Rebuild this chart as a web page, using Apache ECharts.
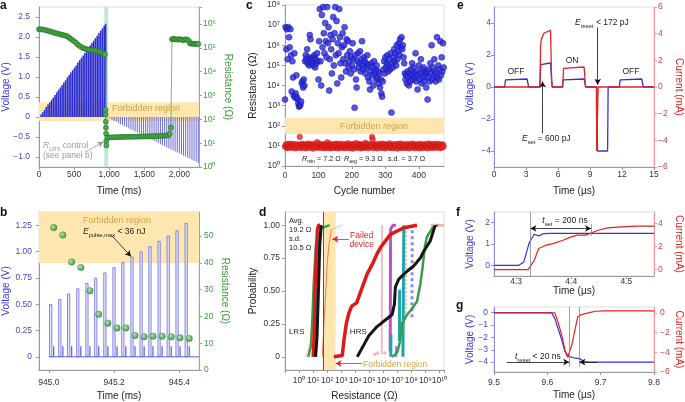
<!DOCTYPE html>
<html><head><meta charset="utf-8">
<script src="https://cdn.jsdelivr.net/npm/echarts@6/dist/echarts.min.js"></script>
<style>html,body{margin:0;padding:0;background:#fff}#c{width:685px;height:402px}</style>
</head><body><div id="c"></div><script>
// ---------- Panel a ----------
const aRampT = [25,50,75,100,125,150,175,200,225,250,275,300,325,350,375,400,425,450,475,500,525,550,575,600,625,650,675,700,725,750,775,800,825,850,875,900,925,945];
const aRampV = [0.06,0.12,0.18,0.25,0.31,0.37,0.43,0.49,0.55,0.62,0.68,0.74,0.80,0.86,0.92,0.99,1.05,1.11,1.17,1.23,1.29,1.36,1.42,1.48,1.54,1.60,1.66,1.73,1.79,1.85,1.91,1.97,2.03,2.10,2.16,2.22,2.28,2.33];
const aRevT = [980,1010,1040,1070,1100,1130,1160,1190,1220,1250,1280,1310,1340,1370,1400,1430,1460,1490,1520,1550,1580,1610,1640,1670,1700,1730,1760,1790,1820,1850,1880,1910,1940,1970,2000,2030,2060,2090,2120,2150,2180,2210,2240,2270];
const aRevV = [-0.02,-0.04,-0.07,-0.10,-0.12,-0.15,-0.18,-0.20,-0.23,-0.25,-0.28,-0.31,-0.33,-0.36,-0.39,-0.41,-0.44,-0.47,-0.49,-0.52,-0.54,-0.57,-0.60,-0.62,-0.65,-0.68,-0.70,-0.73,-0.76,-0.78,-0.81,-0.83,-0.86,-0.89,-0.91,-0.94,-0.97,-0.99,-1.02,-1.04,-1.07,-1.10,-1.12,-1.15];
const aResT = [0,25,50,75,100,125,150,175,200,225,250,275,300,325,350,375,400,425,450,475,500,525,550,575,600,625,650,675,700,725,750,775,800,825,850,875,900,925,940,
  948,950,952,954,956,958,960,
  975,1005,1035,1065,1095,1125,1155,1185,1215,1245,1275,1305,1335,1365,1395,1425,1455,1485,1515,1545,1575,1605,1635,1665,1695,1725,1755,1785,1815,1845,1860,1880,
  1895,1915,1935,1955,1975,1995,2015,2035,2055,2075,2095,2115,2135,2150,2170,2190,2210,2230,2250,2270];
const aResR = [6.0e5,6.0e5,5.9e5,5.75e5,5.5e5,5.25e5,5.0e5,4.7e5,4.5e5,4.25e5,4.1e5,3.9e5,3.7e5,3.55e5,3.4e5,3.25e5,3.1e5,2.75e5,2.4e5,2.15e5,1.9e5,1.65e5,1.4e5,1.23e5,1.1e5,1.0e5,9.3e4,8.9e4,8.5e4,8.3e4,8.1e4,7.9e4,7.8e4,7.4e4,7.1e4,6.8e4,6.3e4,5.75e4,5.25e4,
  250,160,80,45,25,12,8,
  17,17.5,17.5,17.8,17.8,18,18,18.2,18.2,18.4,18.4,18.5,18.6,18.6,18.8,18.8,19,19,19.2,19.2,19.4,19.5,19.6,19.8,20,20,20.2,20.5,20.8,21,25,45,
  2.3e5,2.4e5,2.3e5,2.3e5,2.2e5,2.3e5,2.3e5,2.2e5,2.1e5,2.2e5,2.3e5,2.2e5,2.0e5,1.55e5,1.5e5,1.5e5,1.5e5,1.45e5,1.5e5,1.45e5];
// ---------- Panel b ----------
const bPulseT = [945.003,945.031,945.058,945.086,945.114,945.141,945.169,945.197,945.224,945.252,945.280,945.307,945.335,945.363,945.390,945.418];
const bPulseV = [0.50,0.55,0.60,0.65,0.70,0.75,0.80,0.85,0.90,0.95,1.00,1.05,1.10,1.15,1.20,1.27];
const bReadT = [945.015,945.043,945.070,945.098,945.126,945.153,945.181,945.209,945.236,945.264,945.292,945.319,945.347,945.375,945.402,945.430];
const bReadV = [0.1,0.1,0.1,0.1,0.1,0.1,0.1,0.1,0.1,0.1,0.1,0.1,0.1,0.1,0.1,0.1];
const bBaseT = [945.0,945.46];
const bBaseV = [0,0];
const bResR = [53.2,50.4,40.3,38.3,29.6,20.8,17.5,15.7,15.7,12.9,12.4,12.6,12.6,12.4,12.0,11.8];
// ---------- Panel c ----------
const cCycle = [0,2,4,6,8,10,12,14,16,18,20,22,24,26,28,30,32,34,36,38,
 40,42,44,46,48,50,52,54,56,58,60,62,64,66,68,70,72,74,76,78,
 80,82,84,86,88,90,92,94,96,98,100,102,104,106,108,110,112,114,116,118,
 120,122,124,126,128,130,132,134,136,138,140,142,144,146,148,150,152,154,156,158,
 160,162,164,166,168,170,172,174,176,178,180,182,184,186,188,190,192,194,196,198,
 200,202,204,206,208,210,212,214,216,218,220,222,224,226,228,230,232,234,236,238,
 240,242,244,246,248,250,252,254,256,258,260,262,264,266,268,270,272,274,276,278,
 280,282,284,286,288,290,292,294,296,298,300,302,304,306,308,310,312,314,316,318,
 320,322,324,326,328,330,332,334,336,338,340,342,344,346,348,350,352,354,356,358,
 360,362,364,366,368,370,372,374,376,378,380,382,384,386,388,390,392,394,396,398,
 400,402,404,406,408,410,412,414,416,418,420,422,424,426,428,430,432,434,436,438,
 440,442,444,446,448,450,452,454,456,458,460,462,464,466,468,470,472,474];
const cLRS = [9.2,11.5,8.1,12.3,7.6,10.4,9.8,13.0,8.5,10.9, 7.9,11.8,9.4,12.6,8.3,10.1,7.4,11.2,9.0,12.0,
 8.7,10.6,28.0,7.7,11.9,9.5,12.8,8.0,10.3,9.1, 11.4,7.5,12.5,8.9,10.7,9.3,13.2,7.8,11.0,8.6,
 10.2,12.1,7.3,11.6,9.7,10.8,8.2,12.4,15.5,9.0, 7.9,11.3,8.8,12.7,9.6,10.0,7.6,11.7,8.4,12.2,
 9.9,7.7,10.5,15.0,8.1,11.1,9.2,12.9,7.5,10.6, 8.7,11.9,9.4,7.8,12.0,10.3,8.3,13.1,9.8,7.4,
 11.5,8.6,10.1,12.6,7.9,9.5,11.8,8.2,10.7,12.3, 7.6,9.1,11.4,8.9,13.4,7.7,10.4,9.6,12.1,8.0,
 10.9,7.3,12.5,9.3,11.0,8.5,14.0,7.8,10.2,11.7, 8.8,12.8,9.7,7.5,11.3,10.0,8.1,12.2,9.4,7.9,
 14.5,8.4,11.6,9.0,10.6,7.6,12.4,8.9,11.1,9.6, 28.0,21.0,7.7,10.8,12.0,8.3,9.9,11.5,7.4,10.3,
 12.7,8.6,9.2,11.2,7.8,13.0,10.1,8.0,11.9,9.5, 7.5,12.1,10.4,8.7,11.0,9.1,13.5,7.9,10.7,8.2,
 11.6,9.8,7.6,12.3,8.5,10.9,9.3,11.4,7.3,12.6, 8.8,10.2,9.0,13.2,7.7,11.1,8.4,10.5,12.0,9.7,
 7.9,11.8,8.1,10.0,12.5,9.4,7.5,11.3,8.9,10.6, 13.0,8.3,9.6,11.7,7.6,10.4,12.2,8.7,9.9,11.0,
 7.4,12.9,9.2,10.8,8.0,11.5,9.5,7.8,12.4,10.1, 8.6,11.2,9.7,7.5,13.3,10.3,8.2,11.9,9.0,12.1,
 7.7,10.7,8.8,12.6,9.3,11.4,7.9,10.0,12.8,8.5, 11.1,9.6,7.6,12.0,10.5,8.3,11.7,9.2];
const cHRS = [2.0e3,7.9e6,6.3e5,6.3e6,2.0e5,7.9e6,2.5e6,7.9e5,6.3e6,3.2e5,
 5.0e3,1.6e5,2.5e4,3.2e3,4.0e5,2.5e3,4.0e3,3.2e4,2.5e3,2.0e3,
 1.26e3,890,1.0e3,1.12e3,1.6e3,1.26e4,1.6e4,7.9e3,2.0e4,1.0e4,
 1.6e5,3.2e5,2.0e5,6.3e5,1.26e5,2.5e5,1.0e5,3.2e6,2.0e6,2.0e5,
 1.26e5,2.5e5,1.0e5,1.6e5,3.2e5,7.9e4,2.0e5,1.26e5,4.0e5,1.6e5,
 2.0e4,1.6e6,6.3e7,1.6e5,1.0e4,3.2e7,7.9e5,7.9e7,4.0e6,4.0e5,
 1.26e7,1.6e6,2.5e5,7.9e7,1.26e6,7.9e6,5.6e3,2.0e5,3.2e6,6.3e5,
 4.0e4,2.0e6,2.5e7,1.0e5,4.0e6,7.9e7,3.2e5,1.6e7,1.26e4,1.26e6,
 4.0e5,6.3e7,2.5e6,1.26e5,2.5e4,7.9e5,4.0e6,2.0e5,1.0e6,7.9e6,
 1.26e5,5.0e4,2.0e6,3.2e5,1.6e6,7.9e4,1.6e5,5.0e5,4.0e4,2.5e5,
 1.0e5,1.26e6,2.0e5,6.3e4,790,3.2e5,2.0e4,7.9e3,1.6e5,4.0e5,
 7.9e4,1.26e5,5.0e5,5.0e4,2.0e5,1.6e6,1.0e5,6.3e4,2.5e5,1.6e5,
 4.0e4,1.26e5,7.9e4,3.2e5,2.5e4,1.0e5,1.6e4,6.3e3,5.0e4,1.26e5,
 3.2e4,7.9e4,1.0e4,1.6e5,4.0e4,6.3e4,2.0e4,1.0e5,2.5e4,5.0e4,
 1.26e4,4.0e4,7.9e3,2.0e4,4.0e3,2.8e3,1.6e4,6.3e4,1.6e5,4.0e4,
 2.5e5,7.9e4,1.26e5,3.2e5,5.0e4,1.0e5,2.0e5,6.3e4,4.0e5,450,
 1.26e5,7.9e4,2.5e5,6.3e5,1.6e5,4.0e5,1.0e5,1.0e6,2.0e5,5.0e5,
 1.26e6,3.2e5,2.0e6,7.9e5,2.5e6,6.3e5,1.0e6,2.5e5,1.26e5,4.0e4,
 2.0e4,3.2e4,1.26e4,5.0e4,2.5e4,1.0e4,4.0e4,1.6e4,6.3e4,3.2e4,
 1.26e5,2.0e4,7.9e4,2.5e4,4.0e4,4.0e5,1.6e4,5.0e4,6.3e3,3.2e4,
 1.0e5,2.0e4,4.0e4,2.0e5,1.26e4,6.3e4,2.5e4,7.9e4,1.6e4,4.0e4,
 3.2e4,7.9e3,5.0e4,2.0e3,2.5e4,6.3e4,1.6e4,1.26e5,4.0e4,1.0e6,
 2.0e4,7.9e4,3.2e4,2.0e5,5.0e4,1.6e4,4.0e4,2.5e6,2.5e4,1.0e5,
 2.0e4,6.3e4,1.6e6,3.2e4,2.5e5,5.0e4,1.26e6,7.9e4];
// ---------- Panel d (resistance in ohm, cumulative probability) ----------
const dLrsOrange = [[3,0],[6,0.1],[10,0.35],[13,0.6],[18,0.85],[40,1]];
const dLrsGreen  = [[4.5,0],[7,0.08],[9,0.3],[11,0.55],[16,0.85],[28,0.97],[150,1]];
const dLrsRed    = [[10,0],[12,0.2],[14,0.5],[17,0.8],[20,0.97],[24,1],[32,1]];
const dLrsTeal   = [[13,0],[16,0.3],[20,0.6],[24,0.9],[28,1]];
const dLrsPurple = [[12.5,0],[15.5,0.3],[18,0.6],[22,0.9],[26,1]];
const dLrsBlue   = [[14,0],[18,0.4],[22,0.75],[26,1]];
const dLrsBlack  = [[15,0],[19,0.15],[24,0.5],[30,0.85],[38,1]];
const dFailed    = [[45,0],[63,0.3],[100,0.7],[135,0.85],[200,0.97]];
const dFailedTail= [[200,0.97],[400,0.98],[1175,1]];
const dHrsRed    = [[300,0],[1200,0.01],[1550,0.12],[2300,0.25],[3500,0.33],[5600,0.385],[12600,0.41],[32000,0.53],[71000,0.63],[160000,0.70],[350000,0.78],[630000,0.83],[3.2e6,0.93],[2.9e7,0.98],[2.5e8,1]];
const dHrsRedTail= [[3.2e9,1],[6e9,1],[1e10,1],[1.6e10,1]];
const dHrsBlack  = [[1.4e4,0],[3.2e4,0.07],[9.3e4,0.16],[3.6e5,0.23],[1.4e6,0.28],[4.2e6,0.32],[6.2e6,0.40],[7.2e6,0.53],[1.26e7,0.59],[4.9e7,0.65],[1.45e8,0.69],[4.3e8,0.75],[7.4e8,0.80],[2.2e9,0.88],[5.0e9,1]];
const dHrsGreen  = [[4.2e6,0],[9.5e6,0.03],[1.6e7,0.12],[2.1e7,0.25],[4.9e7,0.32],[8.5e7,0.35],[2.5e8,0.42],[4.3e8,0.55],[6.3e8,0.68],[8.9e8,0.83],[1.26e9,0.91],[3.2e9,0.98],[7.9e9,1]];
const dHrsPurple = [[3.1e6,0.04],[3.2e6,0.5],[3.3e6,0.97],[5e6,1],[8e6,1]];
const dHrsTeal   = [[2.5e7,0],[2.7e7,0.5],[2.9e7,1]];
const dHrsTeal2  = [[1.4e7,0.12],[1.45e7,0.51]];
const dHrsTeal3  = [[3.4e6,0],[3.5e6,0.17]];
const dHrsLav    = [[1.1e8,0.3],[1.15e8,1]];
const dHrsLav2   = [[8e6,0],[8.5e6,0.08]];
const dHrsSalmon = [[4e7,0.3],[4.1e7,1]];
const dHrsPink   = [[7.9e5,0.02],[8.1e5,1.0]];
const dPinkDots  = [[2.5e5,0.02],[4e5,0.03],[3.2e4,0.07],[1.3e6,0.03]];
// ---------- Panels e, f, g ([time µs, value]) ----------
const eVolt = [[0,0],[1.0,0],[1.08,0.45],[1.15,0.5],[3.1,0.5],[3.18,0.45],[3.25,0],[4.3,0],[4.38,1.4],[4.45,1.5],[5.3,1.5],[5.38,1.4],[5.45,0],[6.4,0],[6.48,0.45],[6.55,0.5],[8.45,0.5],[8.52,0.45],[8.6,0],[9.65,0],[9.7,-4],[10.65,-4],[10.7,0],[11.75,0],[11.83,0.45],[11.9,0.5],[13.85,0.5],[13.92,0.45],[14.0,0],[15,0]];
const eCurr = [[0,0],[4.31,0],[4.36,3.0],[4.42,3.5],[4.55,3.8],[4.7,4.05],[4.85,4.2],[5.3,4.25],[5.4,0.5],[5.47,0],[6.45,0],[6.52,1.4],[6.58,1.5],[8.45,1.5],[8.52,1.4],[8.58,0],[9.6,0],[9.63,-4.8],[9.72,-4.8],[9.76,0],[15,0]];
const fVolt = [[4.26,0],[4.305,0],[4.314,0.16],[4.324,1.07],[4.333,1.46],[4.341,1.38],[4.35,1.49],[4.362,1.5],[4.55,1.5]];
const fCurr = [[4.26,0],[4.322,0],[4.333,0.81],[4.341,1.83],[4.353,2.1],[4.367,2.26],[4.385,2.55],[4.4,2.84],[4.411,2.99],[4.426,2.99],[4.437,3.2],[4.449,3.42],[4.466,3.62],[4.49,3.71],[4.519,3.77],[4.55,3.77]];
const gVolt = [[9.5,0],[9.608,0],[9.614,-0.46],[9.62,-1.26],[9.627,-2.2],[9.633,-3.15],[9.64,-3.55],[9.65,-3.65],[9.66,-3.72],[9.67,-3.95],[9.68,-4.0],[9.8,-4.0]];
const gCurr = [[9.5,0],[9.614,0],[9.62,-0.9],[9.627,-2.25],[9.633,-3.76],[9.638,-4.5],[9.641,-4.7],[9.646,-3.26],[9.651,-1.9],[9.657,-0.4],[9.661,-0.23],[9.671,-0.07],[9.69,0.17],[9.708,0.2],[9.8,0.2]];

// ---------- helpers ----------
const FF = '"Liberation Sans", Arial, Helvetica, sans-serif';
const BLUE='#3b3bd0', BLUE_AX='#8c8cea', GREEN='#3a9a3a', GREEN_AX='#74c274', RED='#e52222', RED_AX='#f09494', GOLD='#cfa445', BAND='#fde6b0';
const zip=(a,b)=>a.map((x,i)=>[x,b[i]]);
const MINUS='\u2212';
function sup(n){const m='⁰¹²³⁴⁵⁶⁷⁸⁹';return String(n).split('').map(c=>m[+c]).join('');}
function logLab(v){const e=Math.log10(v),r=Math.round(e);if(Math.abs(e-r)>1e-6||r<0)return '';return '10'+sup(r);}
function num(d){return v=>{if(Math.abs(v)<1e-9)return '0';const s=Math.abs(v).toFixed(d);return (v<0?MINUS:'')+s;};}
function mkAxis(o){
  const a={type:o.type||'value',gridIndex:o.g,min:o.min,max:o.max,position:o.pos,
    splitLine:{show:false},
    axisLine:{show:true,onZero:false,lineStyle:{color:o.lc||'#9a9a9a',width:1}},
    axisTick:{show:true,length:3,lineStyle:{color:o.lc||'#9a9a9a'}},
    axisLabel:{show:true,fontFamily:FF,fontSize:8.5,color:o.tc||'#333',margin:o.m==null?4:o.m,showMinLabel:true,showMaxLabel:true},
    name:o.name||'',nameLocation:'middle',nameGap:o.gap||20,nameMoveOverlap:false,
    nameTextStyle:{fontFamily:FF,fontSize:10,color:o.nc||'#222'}};
  if(o.rot!=null)a.nameRotate=o.rot;
  if(o.cv){a.axisTick.customValues=o.cv;a.axisLabel.customValues=o.cv;}
  if(o.f)a.axisLabel.formatter=o.f;
  if(o.type==='log'){a.logBase=10;a.interval=1;}
  if(o.interval)a.interval=o.interval;
  return a;
}
const thousands=v=>v>=1000?(Math.floor(v/1000)+','+String(v%1000).padStart(3,'0')):String(v);

const xAxis=[
  mkAxis({g:0,min:0,max:2280,cv:[0,500,1000,1500,2000],f:thousands,m:3,name:'Time (ms)',gap:19}),
  mkAxis({g:1,min:944.97,max:945.46,cv:[945.0,945.2,945.4],f:v=>v.toFixed(1),m:8,name:'Time (ms)',gap:21}),
  mkAxis({g:2,min:0,max:475,cv:[0,100,200,300,400],m:5,name:'Cycle number',gap:20}),
  mkAxis({g:3,type:'log',min:0.1,max:2.1e10,f:logLab,m:6,name:'Resistance (\u03a9)',gap:21}),
  mkAxis({g:4,min:0,max:15,interval:3,m:3,name:'Time (\u00b5s)',gap:19}),
  mkAxis({g:5,min:4.26,max:4.55,cv:[4.3,4.4,4.5],f:v=>v.toFixed(1),m:1,name:'',gap:12}),
  mkAxis({g:6,min:9.5,max:9.8,cv:[9.5,9.6,9.7,9.8],f:v=>v.toFixed(1),m:6,name:'Time (\u00b5s)',gap:18})
];
const yAxis=[
  mkAxis({g:0,pos:'left',min:-1.25,max:2.75,cv:[-1,-0.5,0,0.5,1,1.5,2,2.5],f:num(1),m:9,lc:BLUE_AX,tc:'#4646cc',name:'Voltage (V)',nc:BLUE,gap:28}),
  mkAxis({g:0,pos:'right',type:'log',min:1,max:5.2e6,f:logLab,m:4,lc:GREEN_AX,tc:GREEN,name:'Resistance (\u03a9)',nc:GREEN,gap:24,rot:-90}),
  mkAxis({g:1,pos:'left',min:-0.125,max:1.375,cv:[0,0.25,0.5,0.75,1,1.25],f:num(2),m:7,lc:BLUE_AX,tc:'#4646cc',name:'Voltage (V)',nc:BLUE,gap:28}),
  mkAxis({g:1,pos:'right',min:0,max:59,cv:[0,10,20,30,40,50],f:num(0),m:5,lc:GREEN_AX,tc:GREEN,name:'Resistance (\u03a9)',nc:GREEN,gap:21,rot:-90}),
  mkAxis({g:2,type:'log',min:1,max:1e8,f:logLab,m:5,name:'Resistance (\u03a9)',gap:27}),
  mkAxis({g:3,min:-0.1,max:1.1,cv:[0,0.25,0.5,0.75,1],f:num(2),m:5,name:'Probability',gap:27}),
  mkAxis({g:4,pos:'left',min:-5,max:5,cv:[-4,-2,0,2,4],f:num(0),m:3,lc:BLUE_AX,tc:'#4646cc',name:'Voltage (V)',nc:BLUE,gap:19}),
  mkAxis({g:4,pos:'right',min:-6,max:6,cv:[-6,-4,-2,0,2,4,6],f:num(0),m:4,lc:RED_AX,tc:'#e03a3a',name:'Current (mA)',nc:RED,gap:20,rot:-90}),
  mkAxis({g:5,pos:'left',min:-0.5,max:2.5,cv:[0,1,2],f:num(0),m:4,lc:BLUE_AX,tc:'#4646cc',name:'Voltage (V)',nc:BLUE,gap:19}),
  mkAxis({g:5,pos:'right',min:-0.55,max:5,cv:[0,2,4],f:num(0),m:4,lc:RED_AX,tc:'#e03a3a',name:'Current (mA)',nc:RED,gap:20,rot:-90}),
  mkAxis({g:6,pos:'left',min:-4.8,max:0.46,cv:[-4,-3,-2,-1,0],f:num(0),m:6,lc:BLUE_AX,tc:'#4646cc',name:'Voltage (V)',nc:BLUE,gap:19}),
  mkAxis({g:6,pos:'right',min:-6,max:0.6,cv:[-6,-4,-2,0],f:num(0),m:6,lc:RED_AX,tc:'#e03a3a',name:'Current (mA)',nc:RED,gap:20,rot:-90})
];
const gb={show:true,borderColor:'#d4d4d4',borderWidth:0.8,backgroundColor:'transparent'};
const grid=[
  Object.assign({left:39,top:7,width:160,height:160},gb),
  Object.assign({left:39,top:212,width:160,height:159},gb),
  Object.assign({left:285,top:5,width:159,height:161},gb),
  Object.assign({left:285,top:212,width:159,height:159},gb),
  Object.assign({left:494,top:7,width:160,height:160},gb),
  Object.assign({left:494,top:212,width:160,height:64},gb),
  Object.assign({left:494,top:307,width:160,height:65},gb)
];
function arrow(coords,color,sym,w){return {silent:true,symbol:sym||['none','arrow'],symbolSize:[5,6],label:{show:false},lineStyle:{color:color,width:w||0.8,type:'solid'},data:coords.map(c=>[{coord:c[0]},{coord:c[1]}])};}
function dl(name,data,color,w,extra){return Object.assign({type:'line',name:name,xAxisIndex:3,yAxisIndex:5,data:data,symbol:'none',lineStyle:{color:color,width:w},itemStyle:{color:color}},extra||{});}
const greenBall={type:'radial',x:0.35,y:0.35,r:0.75,colorStops:[{offset:0,color:'#9be39b'},{offset:1,color:'#17751b'}]};

const series=[
  // a
  {type:'bar',xAxisIndex:0,yAxisIndex:0,data:zip(aRampT,aRampV),barWidth:1.6,barGap:'-100%',itemStyle:{color:'#2f2fcf'},z:2,
   markArea:{silent:true,itemStyle:{color:BAND},data:[[{yAxis:-0.1},{yAxis:0.37}],[{xAxis:930,itemStyle:{color:'#bfe9d2'}},{xAxis:985}]]},
   markLine:arrow([[[657,-0.875],[914,-0.625]]],'#9a9a9a')},
  {type:'bar',xAxisIndex:0,yAxisIndex:0,data:zip(aRevT,aRevV),barWidth:0.8,barGap:'-100%',itemStyle:{color:'#6a6ad6'},z:2},
  {type:'line',xAxisIndex:0,yAxisIndex:1,data:zip(aResT,aResR),symbol:'circle',symbolSize:5,itemStyle:{color:'#4aae4a',borderColor:'#1c6b1c',borderWidth:0.6},lineStyle:{color:'#4aae4a',width:0.8},z:4},
  // b
  {type:'bar',xAxisIndex:1,yAxisIndex:2,data:zip(bPulseT,bPulseV),barWidth:3,barGap:'-100%',itemStyle:{color:'#e6e6fb',borderColor:'#5a5ad8',borderWidth:0.7},z:2,
   markArea:{silent:true,itemStyle:{color:BAND},data:[[{yAxis:0.89},{yAxis:1.375}]]},
   markLine:arrow([[[945.191,1.148],[945.249,0.953]]],'#111')},
  {type:'bar',xAxisIndex:1,yAxisIndex:2,data:zip(bReadT,bReadV),barWidth:1.2,barGap:'-100%',itemStyle:{color:'#5a5ad8'},z:2},
  {type:'line',xAxisIndex:1,yAxisIndex:2,data:zip(bBaseT,bBaseV),symbol:'none',lineStyle:{color:'#5a5ad8',width:1},z:2},
  {type:'scatter',xAxisIndex:1,yAxisIndex:3,data:zip(bReadT,bResR),symbolSize:6.5,itemStyle:{color:greenBall,borderColor:'#16661a',borderWidth:0.4},z:4},
  // c
  {type:'scatter',xAxisIndex:2,yAxisIndex:4,data:zip(cCycle,cHRS),symbolSize:6,itemStyle:{color:'#2a2ae0',borderColor:'#12129a',borderWidth:0.6},z:3},
  {type:'scatter',xAxisIndex:2,yAxisIndex:4,data:zip(cCycle,cLRS),symbolSize:5.5,itemStyle:{color:'#f02424',borderColor:'#b01010',borderWidth:0.5},z:3,
   markArea:{silent:true,itemStyle:{color:BAND},data:[[{yAxis:39},{yAxis:250}]]}},
  // d
  dl('lrsOrange',dLrsOrange,'#f2a27e',1.2,{lineStyle:{color:'#f2a27e',width:1.2,type:'dotted'},
     markArea:{silent:true,itemStyle:{color:BAND},data:[[{xAxis:58},{xAxis:400}]]},
     markLine:{silent:true,symbol:['none','none'],label:{show:false},lineStyle:{color:'#555',width:1,type:'solid'},data:[{xAxis:50}]}}),
  dl('lrsGreen',dLrsGreen,'#3c9a4a',2.5),
  dl('lrsPurple',dLrsPurple,'#b452c4',2.5),
  dl('lrsBlue',dLrsBlue,'#7f86e6',2),
  dl('lrsTeal',dLrsTeal,'#1fa3ad',2.5),
  dl('lrsRed',dLrsRed,'#e01818',3.2),
  dl('lrsBlack',dLrsBlack,'#151515',3),
  dl('failed',dFailed,'#f07a50',1,{markLine:arrow([[[3548,0.894],[234,0.894]],[[31600,-0.05],[400,-0.05]]],RED)}),
  dl('failedTail',dFailedTail,'#f07a60',1,{lineStyle:{color:'#f07a60',width:1,type:'dotted'}}),
  dl('hrsPink',dHrsPink,'#f08080',1),
  dl('hrsSalmon',dHrsSalmon,'#f4b09a',2,{lineStyle:{color:'#f4b09a',width:2,type:'dotted'}}),
  dl('hrsPurple',dHrsPurple,'#c050c8',3),
  dl('hrsTeal3',dHrsTeal3,'#1fa3ad',3),
  dl('hrsTeal2',dHrsTeal2,'#1fa3ad',3),
  dl('hrsTeal',dHrsTeal,'#1fa3ad',3),
  dl('hrsLav',dHrsLav,'#8a8ae8',3,{lineStyle:{color:'#8a8ae8',width:3,type:'dotted'}}),
  dl('hrsLav2',dHrsLav2,'#8a8ae8',2.5),
  dl('hrsGreen',dHrsGreen,'#3c9a4a',2.5),
  dl('hrsRed',dHrsRed,'#e01818',3.5),
  dl('hrsBlack',dHrsBlack,'#151515',3),
  {type:'scatter',xAxisIndex:3,yAxisIndex:5,data:dHrsRedTail,symbolSize:3.5,itemStyle:{color:'#f4a0a0'}},
  {type:'scatter',xAxisIndex:3,yAxisIndex:5,data:dPinkDots,symbolSize:3.5,itemStyle:{color:'#f4a0b8'}},
  // e
  {type:'line',xAxisIndex:4,yAxisIndex:6,data:eVolt,symbol:'none',lineStyle:{color:'#3434d6',width:1.3},z:3,
   markLine:arrow([[[9.72,3.72],[9.72,0.14]],[[4.56,-2.9],[4.56,0.35]]],'#111')},
  {type:'line',xAxisIndex:4,yAxisIndex:7,data:eCurr,symbol:'none',lineStyle:{color:'#e52222',width:1.3},z:3},
  // f
  {type:'line',xAxisIndex:5,yAxisIndex:8,data:fVolt,symbol:'none',lineStyle:{color:'#3434d6',width:1.2},z:3,
   markLine:{silent:true,symbol:['none','none'],label:{show:false},lineStyle:{color:'#888',width:0.8,type:'solid'},
     data:[[{coord:[4.326,2.5]},{coord:[4.326,-0.5]}],[{coord:[4.436,1.94]},{coord:[4.436,1.39]}]]}},
  {type:'line',xAxisIndex:5,yAxisIndex:8,data:[],symbol:'none',markLine:arrow([[[4.326,1.73],[4.436,1.73]]],'#111',['arrow','arrow'])},
  {type:'line',xAxisIndex:5,yAxisIndex:9,data:fCurr,symbol:'none',lineStyle:{color:'#e52222',width:1.2},z:3},
  // g
  {type:'line',xAxisIndex:6,yAxisIndex:10,data:gVolt,symbol:'none',lineStyle:{color:'#3434d6',width:1.2},z:3,
   markLine:{silent:true,symbol:['none','none'],label:{show:false},lineStyle:{color:'#888',width:0.8,type:'solid'},
     data:[[{coord:[9.641,0.46]},{coord:[9.641,-4.35]}],[{coord:[9.66,0.46]},{coord:[9.66,-4.35]}]]}},
  {type:'line',xAxisIndex:6,yAxisIndex:10,data:[],symbol:'none',markLine:arrow([[[9.524,-4],[9.641,-4]],[[9.693,-4],[9.66,-4]]],'#111')},
  {type:'line',xAxisIndex:6,yAxisIndex:11,data:gCurr,symbol:'none',lineStyle:{color:'#e52222',width:1.2},z:3}
];

function mkRich(c,fs){const sub=Math.round(fs*0.68*10)/10;return {i:{fontStyle:'italic',fontSize:fs,fontFamily:FF,lineHeight:fs+3.5,fill:c},s:{fontSize:sub,fontFamily:FF,verticalAlign:'bottom',fill:c},n:{fontSize:fs,fontFamily:FF,lineHeight:fs+3.5,fill:c}};}
function T(x,y,text,o){o=o||{};const st={text:text,fill:o.c||'#222',fontFamily:FF,fontSize:o.fs||8.5,fontWeight:o.fw||'normal',align:o.al||'left',verticalAlign:o.va||'middle'};if(o.lh)st.lineHeight=o.lh;if(o.rich)st.rich=o.rich;return {type:'text',x:x,y:y,silent:true,z:100,style:st};}
function RT(x,y,text,c,al,fs){fs=fs||8.5;return T(x,y,text,{rich:mkRich(c||'#222',fs),c:c,al:al,fs:fs});}
const graphic=[
  T(0,0,'a',{fw:'bold',fs:12,va:'top',c:'#111'}),
  T(0,207,'b',{fw:'bold',fs:12,va:'top',c:'#111'}),
  T(246,0,'c',{fw:'bold',fs:12,va:'top',c:'#111'}),
  T(259,207,'d',{fw:'bold',fs:12,va:'top',c:'#111'}),
  T(457,0,'e',{fw:'bold',fs:12,va:'top',c:'#111'}),
  T(456,207,'f',{fw:'bold',fs:12,va:'top',c:'#111'}),
  T(456,300,'g',{fw:'bold',fs:12,va:'top',c:'#111'}),
  T(112,109,'Forbidden region',{c:GOLD,fs:9}),
  RT(43,146,'{i|R}{s|LRS}{n| control}','#9a9a9a'),
  T(43,155.5,'(see panel b)',{c:'#9a9a9a'}),
  T(117,221,'Forbidden region',{c:GOLD,fs:9,al:'center'}),
  RT(83,232,'{i|E}{s|pulse,max}{n| < 36 nJ}','#222'),
  T(374,127,'Forbidden region',{c:GOLD,fs:9,al:'center'}),
  RT(302,159,'{i|R}{s|min}{n| = 7.2 \u03a9}','#222','left',7.2),
  RT(344,159,'{i|R}{s|avg}{n| = 9.3 \u03a9}','#222','left',7.2),
  T(388,159,'s.d. = 3.7 \u03a9',{fs:7.2}),
  T(289,217,'Avg.\n19.2 \u03a9\ns.d.\n10.5 \u03a9',{fs:7.5,va:'top',lh:8.8}),
  T(361.7,230.5,'Failed\ndevice',{c:RED,fs:8.5,va:'top',al:'center',lh:9.5}),
  T(296.7,331.7,'LRS',{fs:8,al:'center'}),
  T(358.3,331.7,'HRS',{fs:8,al:'center'}),
  T(363,364.3,'Forbidden region',{c:GOLD,fs:8.5}),
  T(516,72,'OFF',{al:'center'}),
  T(572,61,'ON',{al:'center'}),
  T(631,72,'OFF',{al:'center'}),
  RT(575,23,'{i|E}{s|reset}{n| < 172 pJ}','#222'),
  RT(522,139,'{i|E}{s|set}{n| = 600 pJ}','#222'),
  RT(565,221,'{i|t}{s|set}{n| = 200 ns}','#222','center'),
  RT(515,357,'{i|t}{s|reset}{n| < 20 ns}','#222'),
  T(574,291,'Time (\u00b5s)',{fs:10,al:'center',c:'#222'})
];

const chart=echarts.init(document.getElementById('c'),null,{renderer:'canvas'});
chart.setOption({animation:false,backgroundColor:'#fff',textStyle:{fontFamily:FF},grid:grid,xAxis:xAxis,yAxis:yAxis,series:series,graphic:graphic});
</script></body></html>
